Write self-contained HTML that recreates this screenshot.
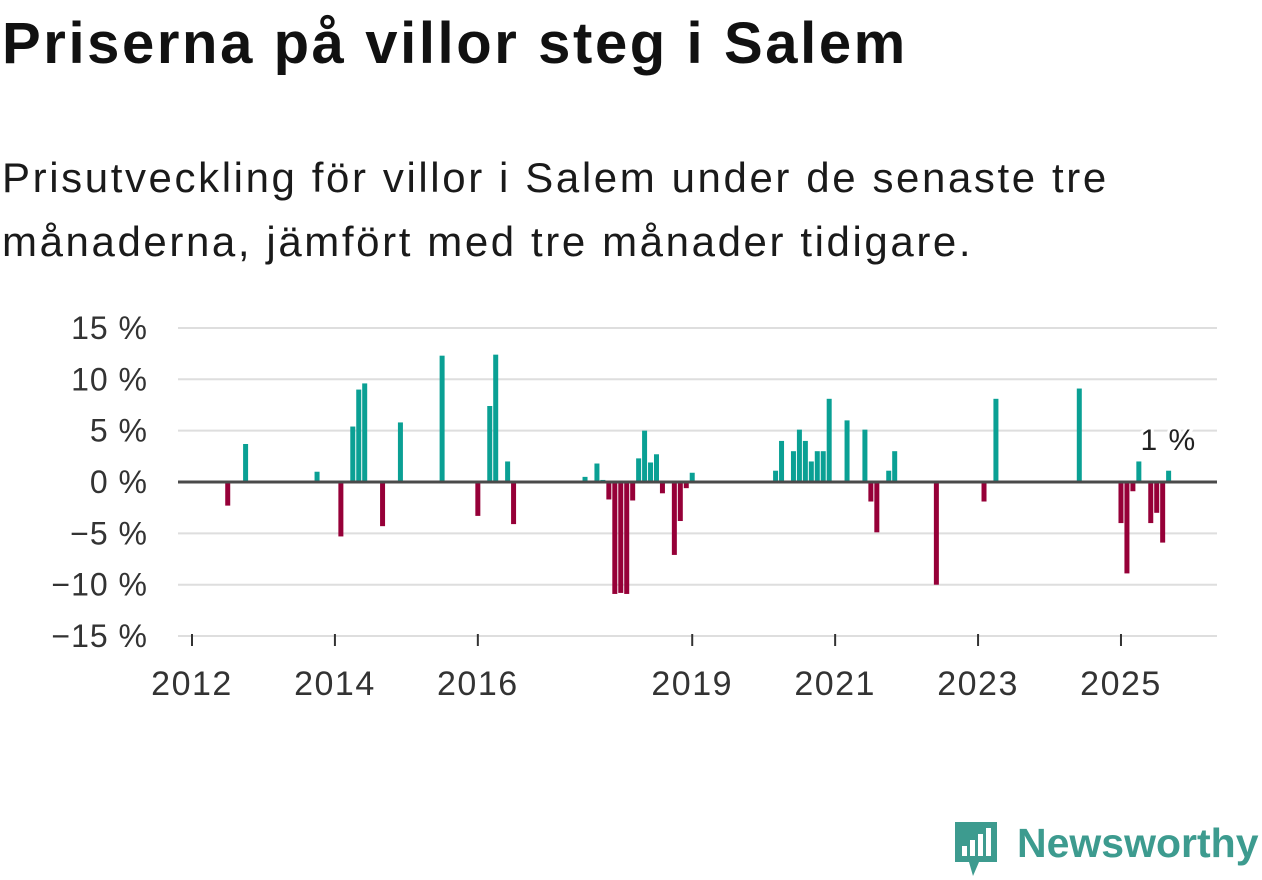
<!DOCTYPE html>
<html><head><meta charset="utf-8">
<style>
body{margin:0;width:1262px;height:879px;background:#fff;font-family:"Liberation Sans",sans-serif;overflow:hidden;position:relative;color:#111}
h1{position:absolute;left:2px;top:10px;margin:0;font-size:58px;font-weight:bold;color:#111;letter-spacing:2.6px;white-space:nowrap}
.sub{position:absolute;left:2px;top:146px;margin:0;font-size:42px;line-height:64px;color:#1a1a1a;width:1260px;letter-spacing:2.6px;white-space:nowrap}
svg{position:absolute;left:0;top:0}
</style></head><body>
<h1>Priserna på villor steg i Salem</h1>
<p class="sub">Prisutveckling för villor i Salem under de senaste tre<br>månaderna, jämfört med tre månader tidigare.</p>
<svg id="chart" width="1262" height="879"></svg>
<div style="position:absolute;left:951px;top:820px;height:60px;">
<svg width="50" height="58" style="position:absolute;left:0;top:0"><path d="M4 2h42v40H28l-6 14-4-14H4z" fill="#3d9b8f"/><rect x="11" y="26" width="5" height="10" fill="#fff"/><rect x="19" y="20" width="5" height="16" fill="#fff"/><rect x="27" y="14" width="5" height="22" fill="#fff"/><rect x="35" y="8" width="5" height="28" fill="#fff"/></svg>
<span style="position:absolute;left:66px;top:0;font-size:41px;font-weight:bold;color:#3d9b8f;white-space:nowrap">Newsworthy</span>
</div>
<script>
const months=[6,9,21,25,27,28,29,32,35,42,48,50,51,53,54,66,68,69,70,71,72,73,74,75,76,77,78,79,81,82,83,84,98,99,101,102,103,104,105,106,107,110,113,114,115,117,118,125,133,135,149,156,157,158,159,161,162,163,164];
const values=[-2.3,3.7,1.0,-5.3,5.4,9.0,9.6,-4.3,5.8,12.3,-3.3,7.4,12.4,2.0,-4.1,0.5,1.8,0.2,-1.7,-10.9,-10.8,-10.9,-1.8,2.3,5.0,1.9,2.7,-1.1,-7.1,-3.8,-0.6,0.9,1.1,4.0,3.0,5.1,4.0,2.0,3.0,3.0,8.1,6.0,5.1,-1.9,-4.9,1.1,3.0,-10.0,-1.9,8.1,9.1,-4.0,-8.9,-0.9,2.0,-4.0,-3.0,-5.9,1.1];
const yTicks=[15,10,5,0,-5,-10,-15];
const yLabels=["15 %","10 %","5 %","0 %","\u22125 %","\u221210 %","\u221215 %"];
const xTickYears=[2012,2014,2016,2019,2021,2023,2025];
const lastLabel="1 %";
const NS="http://www.w3.org/2000/svg";
const svg=document.getElementById('chart');
const y=v=>482-v*10.27;
const x=m=>192+m*5.955;
function mk(t,a){const e=document.createElementNS(NS,t);for(const k in a)e.setAttribute(k,a[k]);svg.appendChild(e);return e;}
yTicks.forEach((t,i)=>{
 if(t!==0){const g=mk('line',{x1:178,x2:1217,y1:y(t),y2:y(t),stroke:'#dedede','stroke-width':2});
 
 }
 const l=mk('text',{x:148,y:y(t)+11,'text-anchor':'end','font-size':32,fill:'#333','font-family':'Liberation Sans, sans-serif','letter-spacing':1});
 l.textContent=yLabels[i];
 
 
});
xTickYears.forEach(yr=>{
 const m=(yr-2012)*12;
 const t=mk('line',{x1:x(m),x2:x(m),y1:634,y2:646,stroke:'#333','stroke-width':2});
 
 
 const l=mk('text',{x:x(m),y:695,'text-anchor':'middle','font-size':34,fill:'#333','font-family':'Liberation Sans, sans-serif','letter-spacing':1.5});
 l.textContent=yr;
 
 
});
months.forEach((m,i)=>{
 const v=values[i];
 const top=v>=0?y(v):y(0);
 const h=Math.abs(y(v)-y(0));
 const b=mk('rect',{x:x(m)-2.5,y:top,width:5,height:h,fill:v>=0?'#0aa094':'#960038'});
 
 
});
const z=mk('line',{x1:178,x2:1217,y1:y(0),y2:y(0),stroke:'#4a4a4a','stroke-width':3});


const lm=months[months.length-1];
const ll=mk('text',{x:x(lm),y:450,'text-anchor':'middle','font-size':30,fill:'#222','font-family':'Liberation Sans, sans-serif','letter-spacing':1.5,stroke:'#fff','stroke-width':6,'paint-order':'stroke'});
ll.textContent=lastLabel;


</script>
</body></html>
